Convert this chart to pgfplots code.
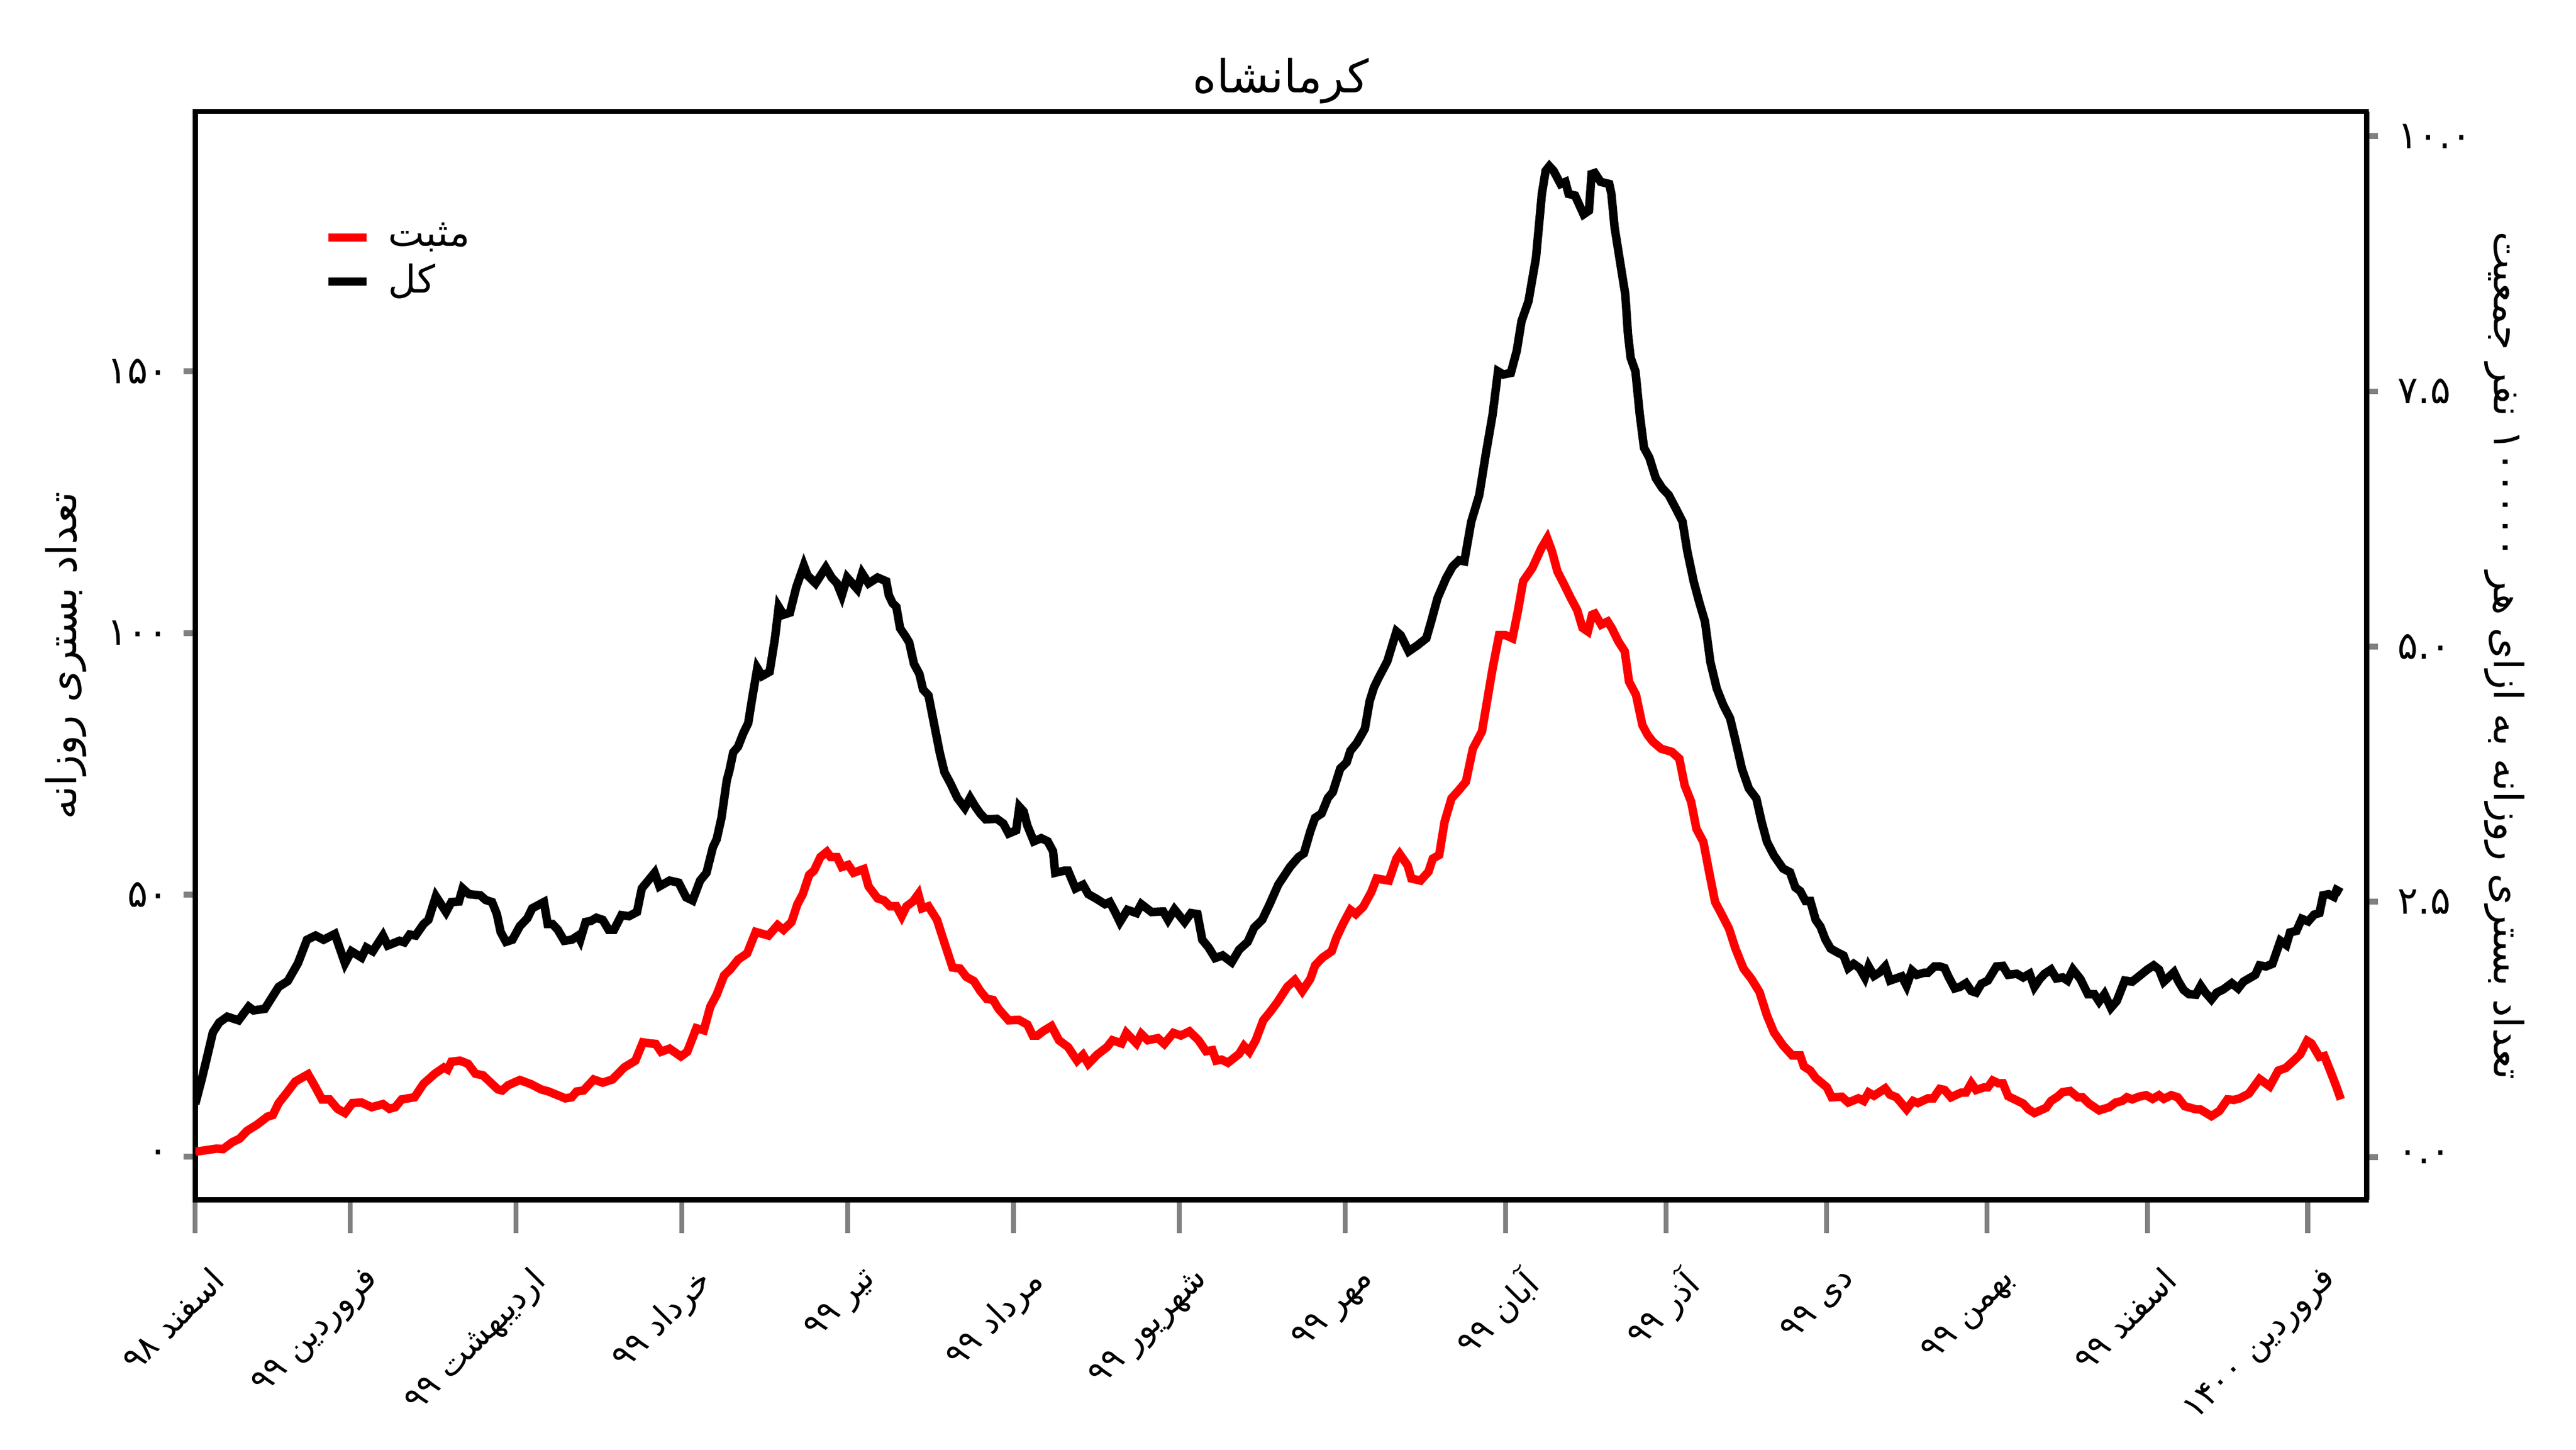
\documentclass[border=0pt]{standalone}
\usepackage{fontspec}
\usepackage{pgfplots}
\usepackage{pgfplotstable}
\pgfplotsset{compat=1.18}
\usetikzlibrary{calc}
\setmainfont{DejaVu Sans}
\newfontfamily\fa[Script=Arabic]{DejaVu Sans}
\TeXXeTstate=1
\newcommand{\tfont}{\fontsize{7.5}{9}\selectfont}
\newcommand{\yfont}{\fontsize{8.6}{10}\selectfont}

\pgfplotstableread{
d v
0 10.0
1.2 14.7
2.1 18.5
3.3 23.7
4.5 25.6
6.0 26.7
8.1 26.0
10.0 28.6
10.9 27.9
13.0 28.2
15.6 32.4
17.3 33.5
19.2 36.9
20.9 41.4
22.5 42.2
24.0 41.4
26.1 42.5
28.0 36.9
29.2 39.2
31.1 38.0
32.0 39.9
33.2 39.2
35.1 42.2
36.0 40.3
38.2 41.2
39.1 40.9
40.1 42.4
41.2 42.2
42.7 44.4
43.6 45.2
45.0 49.7
46.9 46.7
47.9 48.6
49.3 48.7
50.0 51.2
51.2 50.1
53.3 49.9
54.3 49.0
55.5 48.6
56.4 46.3
57.1 42.9
58.1 41.0
59.3 41.4
60.7 44.0
62.1 45.5
63.0 47.4
65.2 48.6
65.9 44.4
66.8 44.4
67.8 43.3
69.0 41.2
70.4 41.4
71.6 42.2
72.0 41.4
73.0 44.8
74.0 45.0
75.0 45.6
76.2 45.2
77.3 43.3
78.3 43.3
79.7 46.1
81.1 45.9
82.6 46.7
83.5 51.2
84.7 52.7
85.9 54.2
86.8 51.6
88.7 52.7
90.4 52.3
91.8 49.5
93.0 48.9
93.7 50.8
94.4 52.7
95.6 54.2
96.8 59.1
97.5 60.6
98.4 64.7
99.4 71.9
99.9 73.8
100.6 77.2
101.5 78.3
102.5 80.9
103.4 82.8
104.1 87.3
105.1 93.3
106.0 91.8
107.4 92.6
108.4 99.0
109.1 105.0
110.0 103.5
111.2 103.9
112.4 108.8
113.8 112.9
114.5 111.0
116.0 109.5
117.9 112.5
119.0 110.6
120.0 109.5
120.9 107.2
121.9 110.6
123.8 108.4
124.7 111.4
125.9 109.5
127.6 110.6
129.2 109.9
129.7 107.2
130.4 105.7
131.1 105.0
131.8 100.9
132.8 99.4
133.5 98.2
134.4 94.1
135.4 92.2
136.1 89.2
137.1 88.1
138.2 82.4
139.2 77.2
140.1 73.4
141.3 71.1
142.5 68.5
143.9 66.6
144.9 68.5
145.9 66.8
146.8 65.5
147.8 64.4
149.9 64.5
151.1 63.6
152.1 61.7
153.5 62.3
154.1 66.8
154.9 65.9
155.6 63.2
156.8 60.2
158.2 60.8
159.4 60.2
160.4 58.3
160.8 54.2
162.5 54.6
163.2 54.6
164.6 51.2
166.0 51.9
167.0 50.1
168.4 49.3
170.1 48.2
171.0 48.6
172.0 46.7
172.9 44.8
174.3 47.1
176.0 46.5
176.9 48.2
178.8 46.7
181.0 46.8
181.9 45.2
183.1 47.2
185.0 44.8
186.2 46.5
187.4 46.3
188.3 41.4
189.5 39.9
190.7 37.9
192.1 38.4
193.8 37.1
195.2 39.5
196.8 41.0
198.0 43.7
199.5 45.2
200.9 48.2
202.5 51.9
204.7 55.3
206.3 57.2
207.3 57.9
208.5 62.1
209.4 64.7
210.6 65.5
211.8 68.5
212.7 69.6
214.1 74.1
215.3 75.3
216.0 77.5
217.2 79.0
218.7 81.7
219.6 87.0
220.4 89.6
221.2 91.3
222.9 94.6
224.6 100.3
225.4 99.6
226.9 96.5
228.6 97.7
230.2 99.0
231.1 102.2
232.3 106.7
233.9 110.5
235.1 112.7
236.3 113.9
237.3 113.7
238.6 121.3
240.1 126.4
241.3 134.1
242.6 141.8
243.6 150.0
244.6 149.4
246.0 149.7
247.1 153.9
248.0 159.6
249.3 163.4
250.7 171.7
251.8 183.9
252.5 188.3
253.2 189.2
254.0 188.3
255.3 185.8
256.2 186.2
256.8 183.9
258.0 183.6
259.6 180.0
260.6 180.7
261.1 187.7
261.7 187.9
262.8 186.2
264.4 185.8
264.8 183.9
265.4 177.5
266.6 169.8
267.4 164.7
267.9 157.1
268.4 152.6
269.3 150.0
270.1 141.8
270.9 135.4
271.9 133.5
273.1 129.6
274.3 127.7
275.5 126.4
276.8 123.9
278.1 121.3
279.0 115.6
280.2 109.8
281.2 106.0
282.3 102.2
283.3 94.5
284.5 89.4
285.7 86.3
287.0 83.7
287.9 79.9
289.2 74.1
290.5 70.3
291.9 68.4
292.9 63.9
293.9 60.1
295.2 57.5
296.9 55.0
298.2 54.3
299.2 51.4
300.1 50.7
301.1 48.8
302.0 48.8
303.0 45.2
303.9 43.9
304.8 41.5
305.8 39.7
307.2 38.9
308.2 38.4
309.1 36.0
310.1 36.8
311.2 36.0
312.2 34.2
312.9 36.3
313.9 34.5
315.0 35.2
316.0 36.3
316.9 33.6
319.1 34.4
320.0 32.6
321.0 35.5
321.9 34.7
323.3 35.1
324.0 35.1
325.2 36.3
326.2 36.3
327.1 36.0
327.8 34.4
329.0 32.1
330.0 32.4
331.1 33.1
332.1 31.6
333.0 31.3
334.0 33.0
335.2 33.6
336.8 36.3
338.0 36.4
339.0 34.7
340.6 34.9
341.8 34.2
343.0 34.9
343.9 32.4
344.9 33.9
345.8 34.9
347.0 35.7
348.0 34.0
349.2 34.2
350.1 33.6
351.1 35.7
352.5 33.9
353.9 31.0
355.1 31.0
356.0 29.6
357.0 31.0
358.2 28.4
359.3 29.7
360.8 33.6
362.2 33.4
363.8 34.7
365.0 35.7
366.2 36.5
367.2 35.7
368.1 33.4
370.0 35.2
370.8 33.5
371.8 31.8
372.8 31.0
374.1 30.9
375.0 32.6
375.8 31.4
377.0 30.0
378.0 31.3
379.2 31.9
380.8 33.1
382.0 32.1
383.0 33.4
385.2 34.7
386.0 36.5
387.2 36.3
388.4 36.8
389.9 41.2
391.0 40.4
391.7 42.8
392.9 43.1
393.9 45.4
395.1 44.9
396.2 46.2
397.2 46.5
397.9 49.9
398.9 50.1
399.9 49.6
400.4 50.9
401.3 50.4
}\kol

\pgfplotstableread{
d v
0 0.9
2.1 1.2
4.0 1.5
5.2 1.4
6.9 2.7
8.3 3.4
9.7 4.9
11.6 6.1
13.5 7.6
14.5 7.9
15.6 10.2
17.3 12.4
18.7 14.3
21.1 15.7
22.5 13.2
23.7 10.9
25.1 10.9
26.6 9.1
28.0 8.3
29.4 10.2
31.1 10.3
33.0 9.4
35.1 10.0
36.3 9.1
37.4 9.4
38.6 10.9
41.0 11.3
42.7 13.9
44.8 15.8
46.5 17.0
47.2 16.6
47.9 18.1
49.5 18.3
51.0 17.7
52.4 15.8
53.8 15.5
56.6 12.8
57.4 12.6
58.5 13.6
60.7 14.6
62.8 13.8
64.7 12.8
66.1 12.4
69.2 11.1
70.4 11.3
71.3 12.4
72.6 12.6
74.5 14.7
76.2 14.1
78.0 14.7
80.2 17.0
82.3 18.3
83.7 21.8
85.0 21.6
86.1 21.5
87.1 20.0
88.7 20.6
90.8 19.1
92.0 20.0
93.7 24.5
95.1 24.1
96.3 28.6
97.5 30.9
98.9 34.6
100.1 35.8
101.5 37.6
103.2 38.8
104.8 42.9
107.2 42.2
108.9 44.2
110.0 43.3
111.5 44.8
112.6 48.2
113.6 50.1
114.8 53.8
115.7 54.6
116.9 57.2
118.1 58.2
118.8 57.2
120.0 57.2
120.9 55.3
122.1 55.7
123.1 54.2
125.0 54.9
125.9 51.6
127.6 49.3
128.8 48.9
129.9 47.8
131.1 47.8
132.1 45.9
133.0 47.8
134.2 48.7
135.2 50.1
135.9 47.4
137.1 47.8
138.7 45.2
139.9 41.4
141.6 36.1
143.0 35.9
144.2 34.3
145.6 33.5
146.8 31.6
148.0 30.1
149.2 29.9
150.2 28.2
152.1 26.0
154.0 26.1
155.6 25.2
156.6 23.1
157.5 23.1
158.5 23.9
160.1 24.9
161.5 22.2
163.2 20.9
164.9 18.3
166.0 19.4
167.0 17.7
168.6 19.4
170.5 20.9
171.5 22.2
173.2 21.6
174.1 23.6
176.0 21.6
176.9 23.4
178.1 22.2
180.0 22.6
181.2 21.5
182.9 23.6
184.3 23.1
185.9 23.9
187.6 22.2
189.0 20.1
190.2 20.3
190.9 18.3
191.9 18.5
193.1 17.9
195.2 19.6
196.1 21.1
197.1 20.0
198.3 22.2
199.7 26.0
200.9 27.5
202.3 29.4
204.2 32.4
205.6 33.7
207.0 31.6
208.5 33.9
209.4 36.5
210.8 38.0
212.5 39.2
213.4 41.8
214.6 44.4
216.0 47.1
217.0 46.3
218.4 47.7
219.9 50.5
220.9 53.1
223.2 52.7
224.6 56.9
225.2 57.8
226.7 55.6
227.4 53.1
229.1 52.7
230.6 54.4
231.4 56.9
232.6 57.6
233.6 63.9
234.9 68.4
236.3 70.0
237.6 71.6
238.9 77.9
240.6 81.2
242.6 93.3
243.8 99.6
245.0 99.6
246.3 99.0
247.3 104.1
248.3 109.9
250.0 112.4
251.7 116.2
252.8 118.1
253.7 115.6
254.7 111.8
256.0 109.2
257.2 106.7
258.4 104.4
259.4 101.0
260.4 100.3
261.2 103.5
261.7 103.7
262.9 101.6
264.1 102.2
264.9 100.9
266.1 98.4
267.3 96.5
268.1 90.7
269.4 88.2
270.6 82.4
271.6 80.5
272.6 79.2
274.1 77.9
276.1 77.3
277.5 76.0
278.5 70.9
279.7 67.8
280.7 62.6
282.0 60.1
283.2 53.7
284.2 48.6
285.5 46.1
286.8 43.5
288.0 39.7
289.5 35.9
291.0 33.9
292.5 31.4
293.9 26.9
295.2 23.7
296.9 21.2
298.6 19.3
300.1 19.3
300.8 17.2
302.0 16.4
303.0 15.0
305.1 13.2
306.0 11.3
307.9 11.4
309.1 10.3
311.0 11.1
312.0 10.6
312.9 12.2
313.9 11.6
316.0 13.0
316.9 11.8
318.1 11.3
320.0 9.0
321.2 10.6
322.1 10.2
324.0 11.1
325.0 11.1
326.2 12.9
327.1 12.7
328.3 11.3
330.2 12.2
331.1 12.2
332.1 14.0
333.0 12.7
334.5 13.2
335.2 13.2
336.1 14.5
337.1 14.0
338.0 14.0
339.0 11.5
340.4 10.8
341.8 10.1
342.8 9.0
343.9 8.3
346.1 9.3
347.0 10.6
348.2 11.4
349.2 12.3
350.6 12.5
352.0 11.3
352.9 11.3
354.1 10.1
356.0 8.8
357.9 9.4
359.1 10.3
360.3 10.6
361.2 11.3
362.2 10.9
363.4 11.4
364.8 11.7
366.0 11.0
367.2 11.7
368.1 11.0
369.5 11.7
370.7 11.3
372.0 9.6
374.1 9.0
374.9 9.0
377.0 7.7
378.5 8.7
380.0 10.9
381.2 10.8
382.3 11.1
384.0 12.0
386.0 14.8
387.9 13.4
389.5 16.4
390.9 16.9
392.6 18.5
393.6 19.5
394.9 22.1
395.7 21.6
397.2 19.0
398.1 19.2
399.2 16.4
400.3 13.5
401.2 10.9
}\mosbat

\begin{document}
\begin{tikzpicture}
\begin{axis}[
  name=ax,
  width=487.1pt, height=244.1pt, scale only axis,
  xmin=0, xmax=406, ymin=-8.31, ymax=199.65,
  axis line style={line width=1.15pt},
  tick align=outside,
  xtick pos=bottom, ytick pos=left,
  xtick={0,29,60,91,122,153,184,215,245,275,305,335,365,395},
  xticklabels={{\fa\beginR اسفند ۹۸\endR},{\fa\beginR فروردین ۹۹\endR},{\fa\beginR اردیبهشت ۹۹\endR},{\fa\beginR خرداد ۹۹\endR},{\fa\beginR تیر ۹۹\endR},{\fa\beginR مرداد ۹۹\endR},{\fa\beginR شهریور ۹۹\endR},{\fa\beginR مهر ۹۹\endR},{\fa\beginR آبان ۹۹\endR},{\fa\beginR آذر ۹۹\endR},{\fa\beginR دی ۹۹\endR},{\fa\beginR بهمن ۹۹\endR},{\fa\beginR اسفند ۹۹\endR},{\fa\beginR فروردین ۱۴۰۰\endR}},
  ytick={0,50,100,150},
  yticklabels={{\fa ۰},{\fa ۵۰},{\fa ۱۰۰},{\fa ۱۵۰}},
  xtick style={line width=1.1pt, /pgfplots/major tick length=7.4pt},
  ytick style={line width=1.3pt, /pgfplots/major tick length=2.6pt},
  xticklabel style={font=\tfont, xshift=3pt, yshift=-10pt, rotate=45, anchor=north east, inner sep=0pt},
  yticklabel style={font=\yfont, inner sep=0pt, xshift=-1.5pt},
  every axis y label/.style={at={(rel axis cs:0,0.5)}, xshift=-29pt, rotate=90, anchor=center, font=\fontsize{9.2}{11}\selectfont},
  ylabel={\fa\beginR تعداد بستری روزانه\endR},
  every axis title/.style={at={(rel axis cs:0.5,1)}, anchor=south, yshift=1.5pt, inner sep=0pt, font=\fontsize{10.2}{12}\selectfont},
  title={\fa\beginR کرمانشاه\endR},
  legend style={draw=none, fill=none, at={(rel axis cs:0.059,0.905)}, anchor=north west, font=\fontsize{8.6}{10}\selectfont, row sep=-0.5pt, inner sep=0pt, nodes={inner sep=1.5pt}},
  legend cell align=left,
  legend image code/.code={\draw[#1] (0pt,0pt) -- (8.5pt,0pt); \path (11pt,0pt);},
]
\addplot[color=red, line width=1.9pt] table[x=d,y=v] {\mosbat};
\addlegendentry{\fa\beginR مثبت\endR}
\addplot[color=black, line width=1.9pt] table[x=d,y=v] {\kol};
\addlegendentry{\fa\beginR کل\endR}
\end{axis}
\begin{axis}[
  width=487.1pt, height=244.1pt, scale only axis,
  xmin=0, xmax=406, ymin=-0.421, ymax=10.242,
  axis x line=none, axis y line*=right,
  axis line style={line width=1.15pt},
  tick align=outside,
  ytick={0,2.5,5,7.5,10},
  yticklabels={{\fa ۰.۰},{\fa ۲.۵},{\fa ۵.۰},{\fa ۷.۵},{\fa ۱۰.۰}},
  ytick style={line width=1.3pt, /pgfplots/major tick length=2.6pt},
  yticklabel style={font=\yfont, inner sep=0pt, xshift=2.5pt},
  every axis y label/.style={at={(rel axis cs:1,0.5)}, xshift=31pt, rotate=-90, anchor=center, font=\fontsize{9}{11}\selectfont},
  ylabel={\fa\beginR تعداد بستری روزانه به ازای هر ۱۰۰۰۰۰ نفر جمعیت\endR},
]
\end{axis}
\pgfresetboundingbox
\path[use as bounding box] ($(ax.south west)+(-43.8pt,-56.0pt)$) rectangle ($(ax.north east)+(47.0pt,25.0pt)$);
\end{tikzpicture}
\end{document}
